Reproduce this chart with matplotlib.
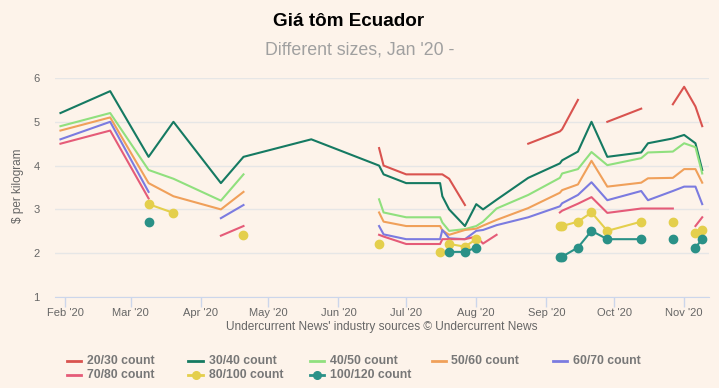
import matplotlib
matplotlib.use('Agg')
import matplotlib.pyplot as plt
import matplotlib.dates as mdates
from matplotlib.lines import Line2D
import numpy as np
import pandas as pd

N = np.nan

dates = ['2020-01-30', '2020-02-21', '2020-03-09', '2020-03-20', '2020-04-10', '2020-04-20',
         '2020-05-20', '2020-06-19', '2020-06-21', '2020-07-01', '2020-07-16', '2020-07-17',
         '2020-07-20', '2020-07-27', '2020-08-01', '2020-08-04', '2020-08-10', '2020-08-24',
         '2020-09-07', '2020-09-08', '2020-09-15', '2020-09-21', '2020-09-28', '2020-10-13',
         '2020-10-16', '2020-10-27', '2020-11-01', '2020-11-06', '2020-11-09']

s20_30 = [N, N, N, N, N, N, N, 4.4, 4.0, 3.8, 3.8, 3.8, 3.7, 3.1, N, N, N, 4.5,
          4.78, 4.83, 5.5, N, 5.0, 5.3, N, 5.4, 5.8, 5.35, 4.9]
s30_40 = [5.2, 5.7, 4.2, 5.0, 3.6, 4.2, 4.6, 4.0, 3.8, 3.6, 3.6, 3.3, 3.0, 2.62, 3.12, 3.0,
          3.22, 3.72, 4.05, 4.12, 4.32, 5.0, 4.2, 4.3, 4.51, 4.62, 4.7, 4.51, 3.9]
s40_50 = [4.9, 5.2, 3.9, 3.7, 3.2, 3.8, N, 3.23, 2.93, 2.82, 2.82, 2.7, 2.51, 2.55, 2.62, 2.72,
          3.02, 3.33, 3.72, 3.82, 3.92, 4.31, 4.01, 4.17, 4.3, 4.32, 4.51, 4.42, 3.82]
s50_60 = [4.8, 5.1, 3.6, 3.3, 3.0, 3.4, N, 2.93, 2.72, 2.62, 2.62, 2.52, 2.42, 2.53, 2.56, 2.63,
          2.76, 3.03, 3.38, 3.44, 3.57, 4.11, 3.52, 3.61, 3.71, 3.72, 3.92, 3.92, 3.61]
s60_70 = [4.6, 5.0, 3.4, N, 2.8, 3.1, N, 2.62, 2.43, 2.32, 2.32, 2.53, 2.34, 2.32, 2.51, 2.53,
          2.64, 2.82, 3.07, 3.14, 3.33, 3.62, 3.21, 3.42, 3.21, 3.42, 3.52, 3.52, 3.12]
s70_80 = [4.5, 4.8, 3.25, N, 2.4, 2.62, N, 2.42, 2.38, 2.21, 2.21, 2.32, 2.32, 2.32, 2.38, 2.22,
          2.42, N, 2.93, 2.97, 3.13, 3.28, 2.92, 3.02, 3.02, 3.02, N, 2.62, 2.82]
s80_100 = [N, N, 3.12, 2.92, N, 2.42, N, 2.22, N, N, 2.03, N, 2.21, 2.15, 2.32, N,
           N, N, 2.62, 2.62, 2.72, 2.93, 2.51, 2.72, N, 2.72, N, 2.47, 2.52]
s100_120 = [N, N, 2.71, N, N, N, N, N, N, N, N, N, 2.03, 2.03, 2.13, N,
            N, N, 1.92, 1.92, 2.13, 2.51, 2.32, 2.32, N, 2.32, N, 2.13, 2.32]

names = ['20/30 count', '30/40 count', '40/50 count', '50/60 count', '60/70 count',
         '70/80 count', '80/100 count', '100/120 count']
series = [s20_30, s30_40, s40_50, s50_60, s60_70, s70_80, s80_100, s100_120]
colors = ['#d9534f', '#157a62', '#90e07e', '#f0a05a', '#7b7be0', '#e55b78', '#e4cf4c', '#2a9187']
dotted = [False, False, False, False, False, False, True, True]

W, H = 719, 388
bg = '#fdf3ea'
plt.rcParams['font.family'] = ['Liberation Sans', 'DejaVu Sans']

x = pd.to_datetime(dates)

fig = plt.figure(figsize=(W / 100, H / 100), dpi=100, facecolor=bg)
ax = fig.add_axes([55 / W, 91 / H, 654 / W, 219 / H])
ax.set_facecolor(bg)

for i in range(len(series)):
    if dotted[i]:
        ax.plot(x, series[i], color=colors[i], lw=1.5, marker='o', ms=6, zorder=3 + i)
    else:
        ax.plot(x, series[i], color=colors[i], lw=1.5, zorder=3 + i)

ax.set_ylim(1, 6)
ax.set_yticks([1, 2, 3, 4, 5, 6])
ax.set_xlim(pd.Timestamp('2020-01-27 14:00'), pd.Timestamp('2020-11-12'))
ax.xaxis.set_major_locator(mdates.MonthLocator(bymonth=range(2, 12)))
ax.xaxis.set_major_formatter(mdates.DateFormatter("%b '%y"))

ax.yaxis.grid(True, color='#e6e6e6', lw=1)
ax.set_axisbelow(True)
for s in ['top', 'right', 'left']:
    ax.spines[s].set_visible(False)
ax.spines['bottom'].set_color('#ccd6eb')
ax.tick_params(axis='x', colors='#ccd6eb', length=7, width=1, pad=1, labelcolor='#666666', labelsize=8)
ax.tick_params(axis='y', length=0, pad=11, labelcolor='#666666', labelsize=8)

fig.text(18 / W, 1 - 186 / H, '\\$ per kilogram', rotation=90, ha='center', va='center',
         fontsize=8.5, color='#666666')
fig.text(349 / W, 1 - 22 / H, 'Giá tôm Ecuador', ha='center', va='center',
         fontsize=13.6, fontweight='bold', color='black')
fig.text(360 / W, 1 - 50 / H, "Different sizes, Jan '20 -", ha='center', va='center',
         fontsize=12.8, color='#a0a0a0')
fig.text(382 / W, 1 - 327 / H, "Undercurrent News' industry sources © Undercurrent News",
         ha='center', va='center', fontsize=8.6, color='#666666')

# legend, laid out like the original: 5 per row
for i in range(len(names)):
    row = i // 5
    col = i % 5
    lx = 67 + col * 121.5
    ly = 1 - (360.5 + row * 14.5) / H
    fig.add_artist(Line2D([lx / W, (lx + 14) / W], [ly, ly], color=colors[i], lw=2,
                          transform=fig.transFigure))
    if dotted[i]:
        fig.add_artist(Line2D([(lx + 7) / W], [ly], color=colors[i], marker='o', ms=5.5,
                              transform=fig.transFigure))
    fig.text((lx + 20) / W, ly, names[i], ha='left', va='center', fontsize=8.8,
             fontweight='bold', color='#777777')

fig.savefig('out.png', dpi=100, facecolor=bg)
